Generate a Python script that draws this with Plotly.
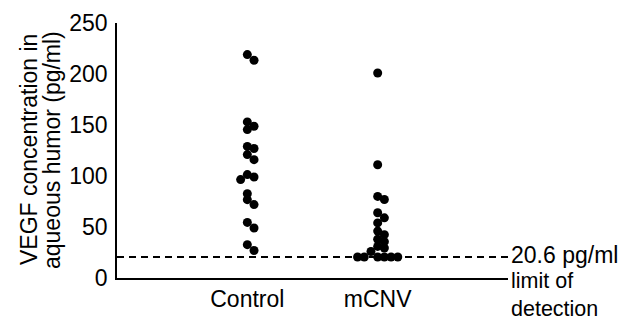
import plotly.graph_objects as go

# ---- data ----
categories = ["Control", "mCNV"]
control_values = [219, 213.5, 153, 148.8, 145.5, 129, 127, 121, 116, 101.4, 99, 96.5,
                  82.7, 76.8, 72, 54.5, 49, 32.7, 27]
mcnv_values = [201, 111, 80, 77, 64, 59, 54, 46, 42.5, 38, 35.6, 31, 29.4, 26,
               20.6, 20.6, 20.6, 20.6, 20.6, 20.6]
detection_limit = 20.6
y_ticks = [0, 50, 100, 150, 200, 250]

# ---- layout geometry ----
W, H = 628, 320
L, T = 117, 23
R = W - 508
B = H - 278
x_range = [0, 3]
y_range = [0, 250]
plot_w = W - L - R
plot_h = H - T - B
px_per_x = plot_w / (x_range[1] - x_range[0])
px_per_y = plot_h / (y_range[1] - y_range[0])


def swarm(values, step_px=6.7, min_dist=6.0):
    """Simple beeswarm: returns x offsets (in data units) for each value."""
    order = sorted(range(len(values)), key=lambda i: -values[i])
    placed = []
    offsets = [0.0] * len(values)
    cands = [0]
    for k in range(1, 10):
        cands += [k, -k]
    for i in order:
        yp = values[i] * px_per_y
        for c in cands:
            xp = c * step_px
            if all(((xp - px) ** 2 + (yp - py) ** 2) ** 0.5 >= min_dist for px, py in placed):
                placed.append((xp, yp))
                offsets[i] = xp / px_per_x
                break
    return offsets


fig = go.Figure()

for idx, vals in enumerate([control_values, mcnv_values]):
    offs = swarm(vals)
    fig.add_trace(go.Scatter(
        x=[idx + 1 + o for o in offs], y=vals, mode="markers",
        marker=dict(size=9, color="black"), showlegend=False, hoverinfo="y"))

fig.add_trace(go.Scatter(
    x=x_range, y=[detection_limit, detection_limit], mode="lines",
    line=dict(color="black", width=2, dash="7px,5px"), showlegend=False, hoverinfo="skip"))

font = dict(family="Liberation Sans, Arial, Helvetica, sans-serif", size=23, color="black")
font_note = dict(font, size=21.5)

title_y = (278 - 150) / plot_h  # paper fraction of title centre
fig.update_layout(
    width=W, height=H,
    margin=dict(l=L, r=R, t=T, b=B, autoexpand=False),
    paper_bgcolor="white", plot_bgcolor="white",
    font=font,
    xaxis=dict(range=x_range, tickvals=[1, 2], ticktext=categories, showgrid=False,
               zeroline=False, showline=True, linecolor="black", linewidth=1.5,
               ticks="", tickfont=font, automargin=False),
    yaxis=dict(range=y_range, tickvals=y_ticks, showgrid=False, zeroline=False,
               showline=True, linecolor="black", linewidth=1.5, ticks="",
               ticklabelstandoff=3, tickfont=font, automargin=False),
    annotations=[
        dict(x=(29 - L) / plot_w, y=title_y, xref="paper", yref="paper",
             text="VEGF concentration in", textangle=-90,
             showarrow=False, font=font, xanchor="center", yanchor="middle"),
        dict(x=(52 - L) / plot_w, y=title_y, xref="paper", yref="paper",
             text="aqueous humor (pg/ml)", textangle=-90,
             showarrow=False, font=font, xanchor="center", yanchor="middle"),
        dict(x=x_range[1], y=detection_limit, xref="x", yref="y", text="20.6 pg/ml",
             showarrow=False, xanchor="left", yanchor="middle", xshift=1, yshift=2, font=font),
        dict(x=x_range[1], y=0, xref="x", yref="y", text="limit of<br>detection",
             showarrow=False, xanchor="left", yanchor="middle", align="left",
             xshift=1, yshift=-17, font=font_note),
    ],
)

fig.write_html("out.html", config={"displayModeBar": False},
               post_script="document.body.style.margin='0';document.body.style.overflow='hidden';")
